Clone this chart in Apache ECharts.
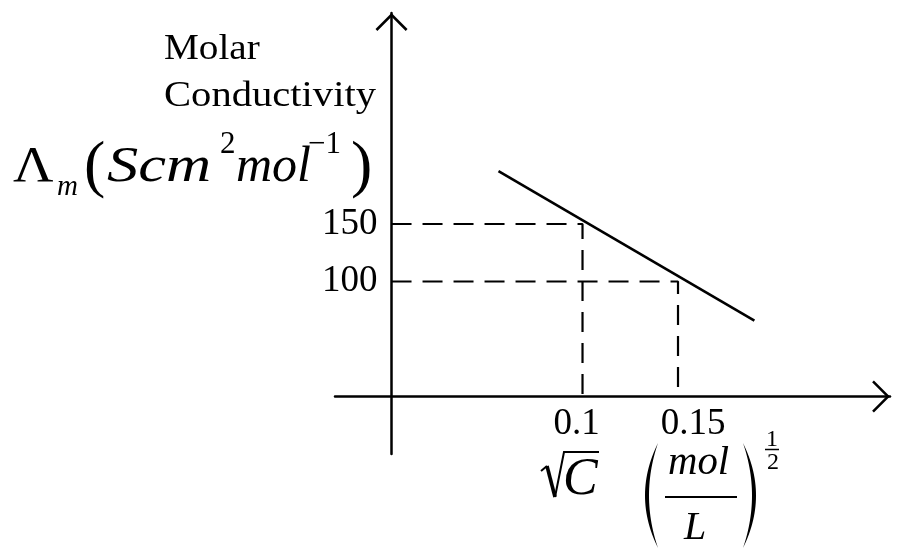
<!DOCTYPE html>
<html>
<head>
<meta charset="utf-8">
<script src="https://cdn.jsdelivr.net/npm/echarts@6/dist/echarts.min.js"></script>
<style>html,body{margin:0;padding:0;background:#fff}#c{width:900px;height:556px}</style>
</head>
<body>
<div id="c"></div>
<script>
// ---- data ----
const xTickValues = [0.1, 0.15];
const xTickLabels = ['0.1', '0.15'];
const yTickValues = [100, 150];
const yTickLabels = ['100', '150'];
const lineX = [0.056, 0.19];
const lineY = [196, 66];
const guideX = [0.1, 0.15];
const guideY = [150, 100];

// ---- build ----
const FONT = '"Liberation Serif", "Times New Roman", serif';
const chart = echarts.init(document.getElementById('c'), null, {renderer: 'canvas'});

const GRID = {left: 335, width: 555, top: 13, height: 441};
const X_MIN = -0.0296, X_MAX = 0.261, Y_MIN = -50, Y_MAX = 333.5;
// place the axes through the origin (0,0)
const xAxisOffset = -(0 - Y_MIN) / (Y_MAX - Y_MIN) * GRID.height;
const yAxisOffset = -(0 - X_MIN) / (X_MAX - X_MIN) * GRID.width;

const chevron = 'path://M0,16 L16,0 L32,16 L30.2,17.8 L16,3.6 L1.8,17.8 Z';
const axisLineCommon = {
  show: true, onZero: false,
  lineStyle: {color: '#000', width: 2.5},
  symbol: ['none', chevron], symbolSize: [32, 18], symbolOffset: [0, -9]
};

const xLabelShift = [-6, 15];
const xRich = {};
xTickLabels.forEach((t, i) => {
  const s = xLabelShift[i];
  xRich['l' + i] = {fontFamily: FONT, fontSize: 37, color: '#000', lineHeight: 38,
    padding: s >= 0 ? [0, 0, 0, 2 * s] : [0, -2 * s, 0, 0]};
});

const series = [{
  type: 'line', symbol: 'none', silent: true,
  data: lineX.map((x, i) => [x, lineY[i]]),
  lineStyle: {color: '#000', width: 2.6}, z: 5
}];
guideX.forEach((gx, i) => {
  series.push({
    type: 'line', symbol: 'none', silent: true,
    data: [[0, guideY[i]], [gx, guideY[i]], [gx, 0]],
    lineStyle: {color: '#000', width: 2.2, type: [20, 11]}, z: 3
  });
});

function paren(xEnd, yTop, yBot, outer, inner) {
  // crescent polygon for a tall thin bracket (decoration)
  const pts = [];
  const n = 30;
  for (let k = 0; k <= n; k++) {
    const t = k / n, y = yTop + (yBot - yTop) * t;
    pts.push([xEnd + outer * 4 * t * (1 - t), y]);
  }
  for (let k = n; k >= 0; k--) {
    const t = k / n, y = yTop + (yBot - yTop) * t;
    pts.push([xEnd + inner * 4 * t * (1 - t), y]);
  }
  return {type: 'polygon', shape: {points: pts}, style: {fill: '#000'}};
}
function txt(text, x, y, size, italic, opts) {
  return Object.assign({
    type: 'text', x: x, y: y,
    style: {text: text, font: (italic ? 'italic ' : '') + size + 'px ' + FONT,
      fill: '#000', align: 'left', verticalAlign: 'middle'}
  }, opts || {});
}

const graphics = [
  txt('Molar', 164, 50, 35, false, {scaleX: 1.12}),
  txt('Conductivity', 164, 97, 35, false, {scaleX: 1.16}),
  txt('\u039B', 13, 168, 50, false, {scaleX: 1.12}),
  txt('m', 57, 187, 29, true),
  txt('(', 84, 168, 64, false),
  txt('Scm', 107, 168, 50, true, {scaleX: 1.25}),
  txt('2', 220, 145, 31, false),
  txt('mol', 236, 168, 50, true),
  txt('\u22121', 308, 145, 31, false),
  txt(')', 351, 168, 64, false),
  // x-axis unit: sqrt(C) (mol/L)^(1/2)
  {type: 'polyline', shape: {points: [[541, 471], [547, 466]]}, style: {stroke: '#000', lineWidth: 2, fill: null}},
  {type: 'polyline', shape: {points: [[547, 466], [555, 497]]}, style: {stroke: '#000', lineWidth: 3.6, fill: null}},
  {type: 'polyline', shape: {points: [[555, 497], [564, 452], [599, 452]]}, style: {stroke: '#000', lineWidth: 2, fill: null}},
  txt('C', 563, 480, 52, true),
  paren(658, 443, 548, -13, -9),
  txt('mol', 668, 463, 40, true, {scaleX: 1.02}),
  {type: 'polyline', shape: {points: [[665, 497], [737, 497]]}, style: {stroke: '#000', lineWidth: 2, fill: null}},
  txt('L', 684, 528, 40, true),
  paren(743, 443, 548, 13, 9),
  {type: 'text', x: 772, y: 440, style: {text: '1', font: '24px ' + FONT, fill: '#000', align: 'center', verticalAlign: 'middle'}},
  {type: 'polyline', shape: {points: [[765, 449.5], [779, 449.5]]}, style: {stroke: '#000', lineWidth: 1.5, fill: null}},
  {type: 'text', x: 773, y: 463, style: {text: '2', font: '24px ' + FONT, fill: '#000', align: 'center', verticalAlign: 'middle'}}
];

const option = {
  animation: false,
  backgroundColor: '#fff',
  grid: Object.assign({containLabel: false}, GRID),
  xAxis: {
    type: 'value', min: X_MIN, max: X_MAX, position: 'bottom', offset: xAxisOffset,
    axisLine: axisLineCommon,
    axisTick: {show: false}, splitLine: {show: false},
    axisLabel: {
      show: true, customValues: xTickValues, margin: 9,
      formatter: v => { const i = xTickValues.indexOf(v); return i < 0 ? '' : '{l' + i + '|' + xTickLabels[i] + '}'; },
      rich: xRich
    }
  },
  yAxis: {
    type: 'value', min: Y_MIN, max: Y_MAX, position: 'left', offset: yAxisOffset,
    axisLine: axisLineCommon,
    axisTick: {show: false}, splitLine: {show: false},
    axisLabel: {
      show: true, customValues: yTickValues, margin: 14,
      fontFamily: FONT, fontSize: 37, color: '#000',
      formatter: v => { const i = yTickValues.indexOf(v); return i < 0 ? '' : yTickLabels[i]; }
    }
  },
  series: series,
  graphic: {elements: graphics}
};
chart.setOption(option);
</script>
</body>
</html>
